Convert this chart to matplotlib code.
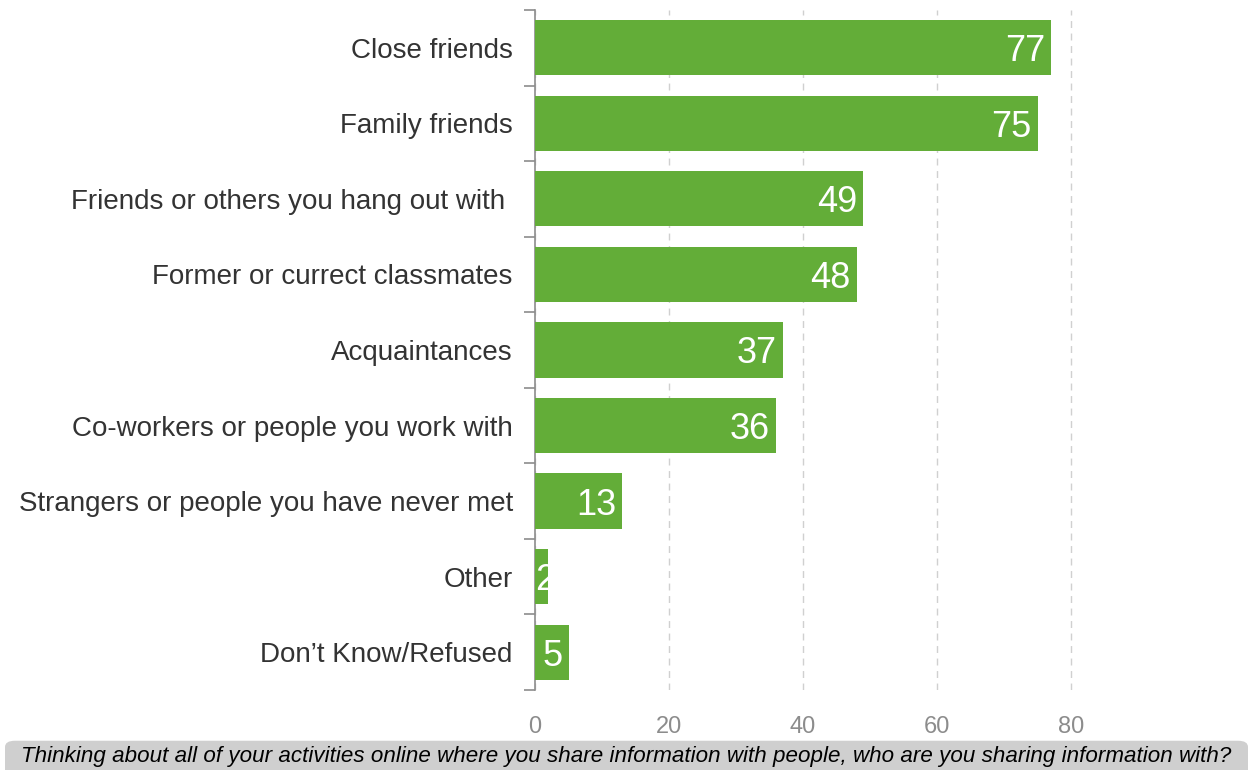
import matplotlib
matplotlib.use("Agg")
import matplotlib.pyplot as plt
from matplotlib.patches import FancyBboxPatch

categories = [
    "Close friends",
    "Family friends",
    "Friends or others you hang out with ",
    "Former or currect classmates",
    "Acquaintances",
    "Co-workers or people you work with",
    "Strangers or people you have never met",
    "Other",
    "Don\u2019t Know/Refused",
]
values = [77, 75, 49, 48, 37, 36, 13, 2, 5]
xticks = [0, 20, 40, 60, 80]
footer = ("Thinking about all of your activities online where you share "
          "information with people, who are you sharing information with?")

plt.rcParams["font.family"] = ["Liberation Sans", "DejaVu Sans"]

fig = plt.figure(figsize=(12.53, 7.70), dpi=100)
ax = fig.add_axes([0.4270, 0.104, 0.4545, 0.883])

green = "#63ad38"
n = len(categories)
ypos = list(range(n))
ax.barh(ypos, values, height=0.73, color=green, zorder=3)
ax.set_ylim(n - 0.5, -0.5)
ax.set_xlim(0, 85)

for y, v in zip(ypos, values):
    if v < 3:
        # too narrow for an inside-end label: start it at the bar's base
        ax.text(0.05, y, str(v), ha="left", va="center_baseline",
                color="white", fontsize=26, zorder=5)
    else:
        ax.text(v - 0.9, y, str(v), ha="right", va="center_baseline",
                color="white", fontsize=26, zorder=5)

ax.set_yticks(ypos)
ax.set_yticklabels(categories, fontsize=20, color="#333333")
ax.tick_params(axis="y", length=0, pad=16)
# category separator ticks on the left spine
ax.set_yticks([i - 0.5 for i in range(n + 1)], minor=True)
ax.tick_params(axis="y", which="minor", length=8, color="#8c8c8c", width=1.2)

ax.set_xticks(xticks)
ax.set_xticklabels([str(t) for t in xticks], fontsize=17, color="#8c8c8c")
ax.tick_params(axis="x", length=0, pad=19)

ax.grid(axis="x", linestyle=(0, (5, 4)), color="#d0d0d0", linewidth=1.0, zorder=0)
ax.set_axisbelow(True)
for s in ["top", "right", "bottom"]:
    ax.spines[s].set_visible(False)
ax.spines["left"].set_color("#8c8c8c")
ax.spines["left"].set_linewidth(1.2)

box = FancyBboxPatch((0.004, -0.02), 0.992, 0.058,
                     boxstyle="round,pad=0,rounding_size=0.008",
                     transform=fig.transFigure, facecolor="#cfcfcf",
                     edgecolor="none")
fig.patches.append(box)
fig.text(0.5, 0.018, footer, ha="center", va="center", style="italic",
         fontsize=16.1, color="black")

fig.savefig("out.png", dpi=100)
